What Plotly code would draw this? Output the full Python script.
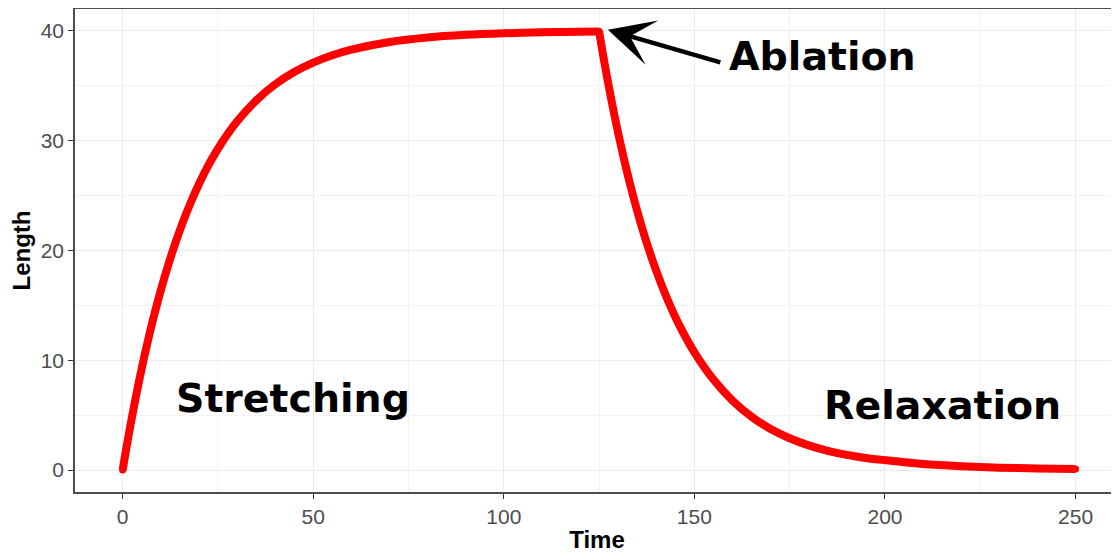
import plotly.graph_objects as go

# Stretching phase
stretch_time = [0, 1, 2, 3, 4, 5, 6, 7, 8, 10, 12, 14, 16, 18, 20, 23, 26, 30, 35, 40,
                45, 50, 55, 60, 70, 80, 90, 100, 110, 120, 125]
stretch_length = [0.0, 2.05, 4.0, 5.84, 7.59, 9.25, 10.83, 12.33, 13.75, 16.37, 18.73, 20.85,
                  22.77, 24.49, 26.04, 28.08, 29.82, 31.75, 33.66, 35.13, 36.26, 37.12, 37.79,
                  38.3, 39.0, 39.41, 39.65, 39.79, 39.88, 39.93, 39.94]

# Relaxation phase after ablation
relax_time = [126, 127, 128, 129, 130, 132, 134, 136, 138, 140, 143, 146, 150, 155, 160, 165,
              170, 175, 180, 185, 190, 195, 200, 210, 220, 230, 240, 250]
relax_length = [37.89, 35.95, 34.11, 32.36, 30.7, 27.63, 24.87, 22.39, 20.15, 18.14, 15.49,
                13.22, 10.72, 8.24, 6.33, 4.86, 3.74, 2.9, 2.25, 1.75, 1.38, 1.1, 0.9, 0.55,
                0.35, 0.22, 0.14, 0.1]

x_ticks = [0, 50, 100, 150, 200, 250]
y_ticks = [0, 10, 20, 30, 40]

fig = go.Figure()
common = dict(mode="lines+markers", line=dict(color="#ff0000", width=8, shape="spline", smoothing=0.8),
              marker=dict(color="#ff0000", size=7), showlegend=False, hoverinfo="skip")
fig.add_trace(go.Scatter(x=stretch_time, y=stretch_length, **common))
# relaxation starts from the ablation point (last stretch point)
fig.add_trace(go.Scatter(x=stretch_time[-1:] + relax_time,
                         y=stretch_length[-1:] + relax_length, **common))

label_font = dict(family="DejaVu Sans", size=39.5, color="black")
fig.add_annotation(x=183.6, y=37.7, xref="x", yref="y", text="<b>Ablation</b>",
                   showarrow=False, font=label_font)
fig.add_annotation(x=44.6, y=6.6, xref="x", yref="y", text="<b>Stretching</b>",
                   showarrow=False, font=label_font)
fig.add_annotation(x=215.1, y=5.9, xref="x", yref="y", text="<b>Relaxation</b>",
                   showarrow=False, font=label_font)
fig.add_annotation(x=127.3, y=40.1, ax=157.2, ay=37.1, xref="x", yref="y",
                   axref="x", ayref="y", text="", showarrow=True,
                   arrowhead=3, arrowsize=1.7, arrowwidth=4.5, arrowcolor="black")

tick_font = dict(family="Liberation Sans, Arial", size=21, color="#4d4d4d")
title_font = dict(family="Liberation Sans, Arial", size=24, color="black")

fig.update_xaxes(
    range=[-12.5, 261.4], tickvals=x_ticks, ticktext=[str(v) for v in x_ticks],
    showgrid=True, gridcolor="#ebebeb", gridwidth=1.2,
    minor=dict(dtick=25, tick0=0, showgrid=True, gridcolor="#f2f2f2", gridwidth=0.6),
    showline=True, linecolor="#4d4d4d", linewidth=1.5, mirror=True,
    ticks="outside", ticklen=5, tickwidth=1.2, tickcolor="#333333",
    tickfont=tick_font, zeroline=False,
    title=dict(text="<b>Time</b>", font=title_font, standoff=4),
)
fig.update_yaxes(
    range=[-2, 42], tickvals=y_ticks, ticktext=[str(v) for v in y_ticks],
    showgrid=True, gridcolor="#ebebeb", gridwidth=1.2,
    minor=dict(dtick=5, tick0=0, showgrid=True, gridcolor="#f2f2f2", gridwidth=0.6),
    showline=True, linecolor="#4d4d4d", linewidth=1.5, mirror=False,
    ticks="outside", ticklen=5, tickwidth=1.2, tickcolor="#333333",
    tickfont=tick_font, zeroline=False,
    title=dict(text="<b>Length</b>", font=title_font, standoff=6),
)

# The page body adds an 8px offset; size the figure to compensate.
fig.update_layout(
    width=1111, height=546,
    margin=dict(l=67, r=0, t=1, b=62),
    plot_bgcolor="white", paper_bgcolor="white",
    font=dict(family="Liberation Sans, Arial"),
)

fig.write_html("out.html")
